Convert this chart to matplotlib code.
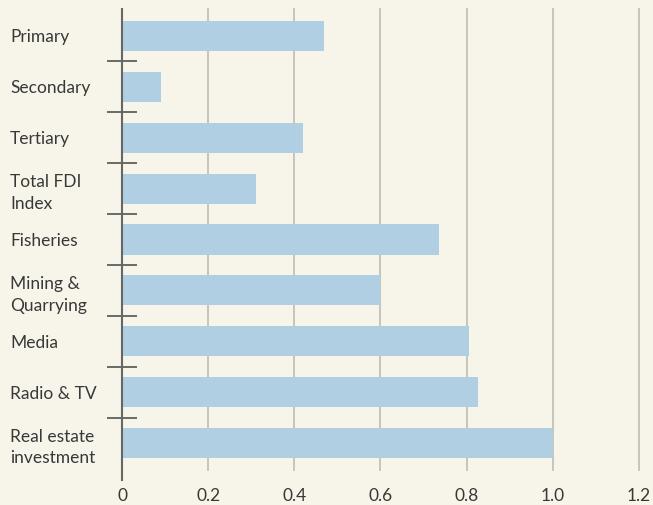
import numpy as np
import matplotlib
matplotlib.use("Agg")
import matplotlib.pyplot as plt

# categories, top to bottom
labels = ["Primary", "Secondary", "Tertiary", "Total FDI\nIndex", "Fisheries",
          "Mining &\nQuarrying", "Media", "Radio & TV", "Real estate\ninvestment"]
values = [0.47, 0.09, 0.42, 0.31, 0.735, 0.60, 0.805, 0.826, 1.0]
xticks = [0, 0.2, 0.4, 0.6, 0.8, 1.0, 1.2]
xticklabels = ["0", "0.2", "0.4", "0.6", "0.8", "1.0", "1.2"]

bg = "#f7f4e9"
barcol = "#b0cfe2"
txt = "#383838"

plt.rcParams['font.family'] = ['Lato', 'DejaVu Sans']

W, H = 653, 505
fig = plt.figure(figsize=(W / 100, H / 100), dpi=100, facecolor=bg)
ax = fig.add_axes([122 / W, 1 - 470 / H, (639 - 122) / W, (470 - 9) / H])
ax.set_facecolor(bg)

y = np.arange(len(labels))
ax.barh(y, values, height=0.59, color=barcol, zorder=2)

ax.set_xlim(0, 1.2)
ax.set_ylim(len(labels) - 0.47, -0.53)

# vertical grid
for xv in xticks[1:]:
    ax.axvline(xv, color="#c4c0b8", lw=1.3, zorder=1, clip_on=False)
# zero line a bit longer than the grid
ax.plot([0, 0], [-0.53, len(labels) - 0.28], color="#666666", lw=1.5,
        zorder=3, clip_on=False)

for s in ax.spines.values():
    s.set_visible(False)

ax.set_xticks(xticks)
ax.set_xticklabels(xticklabels)
ax.tick_params(axis='x', length=0, pad=13, labelsize=12.5, labelcolor=txt)

ax.set_yticks(y)
ax.set_yticklabels(labels, ha='left', linespacing=1.45)
ax.tick_params(axis='y', which='major', length=0, pad=112 * 0.72,
               labelsize=12.5, labelcolor=txt)
# separators between categories
ax.set_yticks(y[:-1] + 0.5, minor=True)
ax.tick_params(axis='y', which='minor', direction='inout', length=22,
               width=1.1, color="#444444")

fig.savefig("out.png", dpi=100, facecolor=bg)
